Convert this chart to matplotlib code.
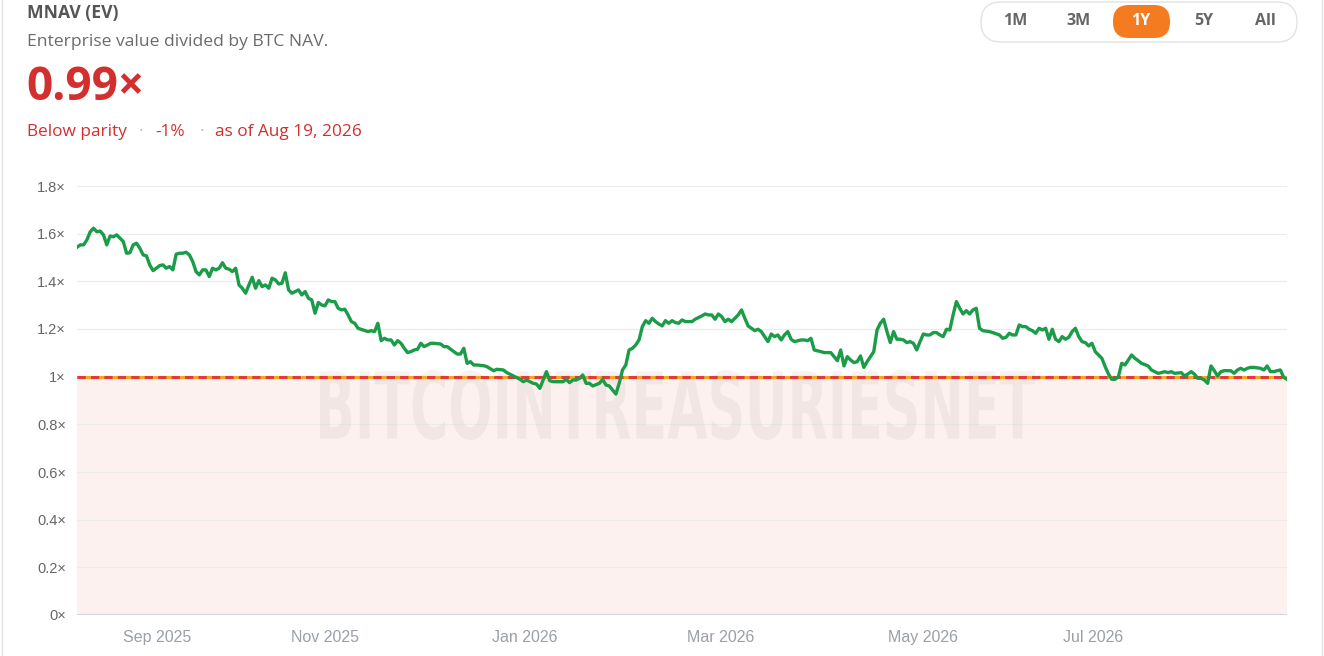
import matplotlib.pyplot as plt
from matplotlib.patches import FancyBboxPatch, PathPatch
from matplotlib.textpath import TextPath
from matplotlib.font_manager import FontProperties
from matplotlib.transforms import Affine2D

# mNAV series (days since Aug 19, 2025 -> value)
days = [0, 1, 2, 3, 4, 5, 6, 7, 8, 9, 10, 11, 12, 13, 14, 15, 16, 17, 18, 19,
        20, 21, 22, 23, 24, 25, 26, 27, 28, 29, 30, 31, 32, 33, 34, 35, 36, 37, 38, 39,
        40, 41, 42, 43, 44, 45, 46, 47, 48, 49, 50, 51, 52, 53, 54, 55, 56, 57, 58, 59,
        60, 61, 62, 63, 64, 65, 66, 67, 68, 69, 70, 71, 72, 73, 74, 75, 76, 77, 78, 79,
        80, 81, 82, 83, 84, 85, 88, 89, 90, 91, 92, 93, 94, 95, 96, 97, 98, 99, 100, 101,
        102, 103, 104, 105, 106, 107, 108, 110, 111, 112, 113, 114, 115, 116, 117, 118, 119, 120, 121, 123,
        124, 126, 127, 129, 130, 132, 134, 135, 136, 137, 138, 139, 140, 141, 142, 143, 144, 145, 147, 148,
        149, 150, 151, 152, 153, 154, 155, 156, 158, 159, 160, 161, 162, 163, 164, 165, 166, 167, 168, 169,
        170, 171, 172, 173, 174, 175, 176, 177, 178, 179, 180, 181, 182, 183, 184, 186, 187, 189, 190, 191,
        192, 193, 194, 195, 196, 197, 198, 199, 200, 201, 202, 203, 204, 205, 206, 207, 208, 209, 210, 211,
        212, 213, 214, 215, 216, 217, 219, 220, 221, 222, 223, 225, 226, 228, 229, 230, 231, 232, 233, 234,
        235, 236, 237, 238, 239, 240, 241, 242, 243, 244, 245, 246, 247, 248, 249, 250, 251, 252, 253, 254,
        255, 256, 257, 258, 259, 260, 261, 262, 263, 264, 265, 266, 267, 268, 269, 270, 271, 272, 273, 274,
        276, 277, 279, 280, 281, 282, 283, 284, 285, 286, 287, 288, 289, 290, 291, 292, 293, 294, 295, 296,
        297, 298, 299, 300, 301, 302, 303, 304, 305, 306, 307, 308, 310, 311, 312, 313, 314, 315, 316, 317,
        318, 319, 320, 321, 322, 324, 325, 327, 328, 329, 330, 331, 332, 334, 335, 336, 337, 338, 339, 340,
        341, 342, 343, 344, 345, 346, 347, 349, 350, 351, 352, 353, 354, 355, 356, 358, 359, 360, 361, 362,
        363, 364, 365, 366]
mnav = [1.543, 1.553, 1.553, 1.574, 1.608, 1.623, 1.608, 1.611, 1.595, 1.553, 1.590, 1.587, 1.595, 1.581, 1.567, 1.518, 1.520, 1.553, 1.560, 1.539,
        1.511, 1.507, 1.469, 1.445, 1.455, 1.466, 1.469, 1.455, 1.462, 1.448, 1.514, 1.518, 1.518, 1.522, 1.511, 1.483, 1.441, 1.427, 1.448, 1.448,
        1.420, 1.455, 1.448, 1.455, 1.478, 1.455, 1.451, 1.441, 1.455, 1.385, 1.371, 1.350, 1.385, 1.417, 1.371, 1.403, 1.378, 1.385, 1.371, 1.413,
        1.406, 1.389, 1.392, 1.436, 1.364, 1.350, 1.357, 1.364, 1.343, 1.357, 1.329, 1.322, 1.266, 1.311, 1.301, 1.297, 1.322, 1.315, 1.315, 1.287,
        1.280, 1.283, 1.259, 1.231, 1.224, 1.203, 1.189, 1.193, 1.189, 1.224, 1.151, 1.161, 1.154, 1.154, 1.133, 1.151, 1.140, 1.119, 1.101, 1.105,
        1.112, 1.115, 1.140, 1.126, 1.133, 1.140, 1.140, 1.137, 1.126, 1.126, 1.115, 1.105, 1.095, 1.095, 1.119, 1.056, 1.063, 1.049, 1.049, 1.046,
        1.042, 1.025, 1.031, 1.028, 1.017, 1.003, 0.989, 0.979, 0.986, 0.979, 0.972, 0.969, 0.951, 0.986, 1.021, 0.983, 0.979, 0.979, 0.979, 0.989,
        0.975, 0.986, 0.986, 0.993, 1.007, 0.972, 0.972, 0.961, 0.972, 0.989, 0.965, 0.961, 0.944, 0.927, 0.972, 1.028, 1.049, 1.112, 1.119, 1.133,
        1.154, 1.210, 1.235, 1.224, 1.245, 1.231, 1.221, 1.213, 1.235, 1.224, 1.235, 1.227, 1.224, 1.238, 1.231, 1.231, 1.241, 1.255, 1.263, 1.259,
        1.259, 1.241, 1.263, 1.252, 1.231, 1.241, 1.231, 1.245, 1.259, 1.280, 1.245, 1.213, 1.203, 1.193, 1.199, 1.189, 1.168, 1.147, 1.179, 1.168,
        1.175, 1.154, 1.175, 1.189, 1.157, 1.147, 1.154, 1.154, 1.151, 1.161, 1.112, 1.105, 1.101, 1.101, 1.084, 1.067, 1.112, 1.045, 1.084, 1.070,
        1.059, 1.063, 1.087, 1.039, 1.063, 1.084, 1.105, 1.196, 1.224, 1.241, 1.189, 1.143, 1.189, 1.157, 1.157, 1.154, 1.143, 1.147, 1.140, 1.112,
        1.147, 1.179, 1.175, 1.175, 1.185, 1.185, 1.175, 1.168, 1.199, 1.196, 1.259, 1.315, 1.287, 1.263, 1.277, 1.263, 1.280, 1.287, 1.203, 1.193,
        1.189, 1.185, 1.175, 1.161, 1.165, 1.182, 1.175, 1.175, 1.217, 1.210, 1.210, 1.199, 1.193, 1.182, 1.203, 1.196, 1.203, 1.157, 1.199, 1.157,
        1.147, 1.168, 1.157, 1.165, 1.189, 1.203, 1.168, 1.147, 1.143, 1.129, 1.140, 1.105, 1.077, 1.042, 1.011, 0.989, 0.989, 1.000, 1.056, 1.049,
        1.070, 1.091, 1.077, 1.067, 1.056, 1.045, 1.028, 1.014, 1.017, 1.021, 1.017, 1.021, 1.014, 1.017, 1.003, 1.011, 1.021, 1.011, 0.993, 0.993,
        0.986, 0.972, 1.045, 1.025, 1.003, 1.021, 1.025, 1.025, 1.014, 1.028, 1.035, 1.028, 1.035, 1.039, 1.039, 1.035, 1.028, 1.045, 1.021, 1.021,
        1.025, 1.028, 0.997, 0.989]

tick_days = [24.2, 75.0, 135.5, 194.8, 255.9, 307.3]
tick_labels = ["Sep 2025", "Nov 2025", "Jan 2026", "Mar 2026", "May 2026", "Jul 2026"]
y_ticks = [0, 0.2, 0.4, 0.6, 0.8, 1.0, 1.2, 1.4, 1.6, 1.8]
y_labels = ["0×", "0.2×", "0.4×", "0.6×", "0.8×", "1×", "1.2×", "1.4×", "1.6×", "1.8×"]
parity = 1.0
ranges = ["1M", "3M", "1Y", "5Y", "All"]

RED = "#d32f2f"
GREEN = "#1a9c48"

W, H = 1324, 656
fig = plt.figure(figsize=(W / 100, H / 100), dpi=100)

# background layer in pixel coordinates (header text, range buttons, card border)
bg = fig.add_axes([0, 0, 1, 1])
bg.set_xlim(0, W)
bg.set_ylim(H, 0)
bg.axis("off")
bg.plot([2, 2], [0, H], color="#e3e3e3", lw=1)
bg.plot([W - 2, W - 2], [0, H], color="#e3e3e3", lw=1)

hdr = "Open Sans"
sub = 12.4
bg.text(27, 13, "MNAV (EV)", fontsize=12.6, fontweight="bold", color="#555555",
        family=hdr, va="center", ha="left")
bg.text(27, 42, "Enterprise value divided by BTC NAV.", fontsize=12.6, color="#6b6b6b",
        family=hdr, va="center", ha="left")
bg.text(26, 88, "0.99×", fontsize=33, fontweight="bold", color=RED,
        family=hdr, va="center", ha="left")
bg.text(27, 132, "Below parity", fontsize=sub, color=RED, family=hdr, va="center")
bg.text(141, 132, "·", fontsize=sub, color="#bbbbbb", family=hdr, va="center", ha="center")
bg.text(155, 132, "-1%", fontsize=sub, color=RED, family=hdr, va="center")
bg.text(202, 132, "·", fontsize=sub, color="#bbbbbb", family=hdr, va="center", ha="center")
bg.text(215, 132, "as of Aug 19, 2026", fontsize=sub, color=RED, family=hdr, va="center")

# time range selector
bg.add_patch(FancyBboxPatch((981, 2), 316, 40, boxstyle="round,pad=0,rounding_size=20",
                            fc="white", ec="#e2e2e2", lw=1))
bx = [1015, 1079, 1141, 1204, 1265]
for lab, x in zip(ranges, bx):
    if lab == "1Y":
        bg.add_patch(FancyBboxPatch((x - 28, 5), 57, 33, boxstyle="round,pad=0,rounding_size=16",
                                    fc="#f47b20", ec="none"))
        col = "white"
    else:
        col = "#666666"
    bg.text(x, 21, lab, fontsize=11.5, fontweight="bold", color=col, family=hdr,
            ha="center", va="center")

# chart
ax = fig.add_axes([77 / W, 1 - 615 / H, (1287 - 77) / W, (615 - 186) / H])
ax.patch.set_alpha(0)
ax.set_xlim(days[0], days[-1])
ax.set_ylim(0, 1.8)

ax.axhspan(0, parity, color="#fdf1f0", zorder=0, lw=0)
for yv in y_ticks[1:]:
    ax.axhline(yv, color="#ebebeb", lw=0.8, zorder=1)
ax.axhline(0, color="#cfcfd6", lw=1.2, zorder=1)

# condensed watermark: bold text path squeezed into its box
wm = TextPath((0, 0), "BITCOINTREASURIESNET", size=100,
              prop=FontProperties(family="DejaVu Sans", weight="bold"))
ext = wm.get_extents()
squeeze = (Affine2D().translate(-ext.x0, -ext.y0)
           .scale(715 / ext.width, -70 / ext.height).translate(320, 440))
ax.add_patch(PathPatch(squeeze.transform_path(wm), transform=bg.transData,
                       fc="#b8abab", ec="none", alpha=0.15, zorder=1, clip_on=False))

ax.axhline(parity, color="#f5a623", lw=2.2, zorder=2)
ax.axhline(parity, color="#e53935", lw=2.2, dashes=(2.7, 1.7), zorder=3)

ax.plot(days, mnav, color=GREEN, lw=2.4, zorder=4, solid_joinstyle="round")

ax.set_yticks(y_ticks)
ax.set_yticklabels(y_labels, family="Liberation Sans", fontsize=10.5, color="#666666")
ax.set_xticks(tick_days)
ax.set_xticklabels(tick_labels, family="Liberation Sans", fontsize=11.5, color="#9aa0a8")
ax.tick_params(axis="both", length=0)
ax.tick_params(axis="y", pad=8)
ax.tick_params(axis="x", pad=11)
for s in ax.spines.values():
    s.set_visible(False)

fig.savefig("out.png", dpi=100)
